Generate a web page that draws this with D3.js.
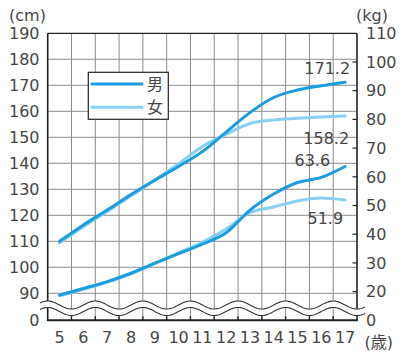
<!DOCTYPE html>
<html>
<head>
<meta charset="utf-8">
<script src="https://cdn.jsdelivr.net/npm/d3@7"></script>
<style>
  html, body { margin: 0; padding: 0; background: #fff; }
  svg text { font-family: "DejaVu Sans", "Noto Sans CJK JP", sans-serif; fill: #464646; }
</style>
</head>
<body>
<svg id="chart" width="408" height="353"></svg>
<script>
// Average height (cm) and weight (kg) by age, boys and girls
const ages = [5, 6, 7, 8, 9, 10, 11, 12, 13, 14, 15, 16, 17];
const boyHeight  = [110.0, 116.3, 122.0, 128.0, 133.5, 138.8, 144.5, 152.0, 159.5, 165.3, 168.2, 169.8, 171.2];
const girlHeight = [109.4, 115.6, 121.5, 127.5, 133.5, 139.8, 146.5, 151.2, 155.3, 156.7, 157.3, 157.8, 158.2];
const boyWeight  = [18.8, 21.1, 23.5, 26.4, 29.9, 33.2, 36.5, 40.5, 48.4, 54.0, 58.0, 59.8, 63.6];
const girlWeight = [18.5, 20.8, 23.2, 26.2, 29.8, 33.5, 37.2, 41.8, 47.5, 49.5, 51.6, 52.6, 51.9];

const heightTicks = [90, 100, 110, 120, 130, 140, 150, 160, 170, 180, 190];
const weightTicks = [20, 30, 40, 50, 60, 70, 80, 90, 100, 110];
const seriesNames = ["男", "女"];
const colors = { boy: "#1a9ce0", girl: "#85d0f3" };

const svg = d3.select("#chart");
const L = 47.7, R = 357, T = 33.3, B = 320.3;

const x = d3.scaleLinear().domain([4.5, 17.5]).range([L, R]);
const yH = d3.scaleLinear().domain([90, 190]).range([293.3, T]);
const yW = d3.scaleLinear().domain([10, 110]).range([B, T]);

// grid
const grid = svg.append("g");
grid.selectAll("line.h").data(heightTicks.filter(d => d < 190)).join("line")
  .attr("x1", L).attr("x2", R).attr("y1", d => yH(d)).attr("y2", d => yH(d))
  .attr("stroke", "#8c8c8c").attr("stroke-width", 1);
const gridX = d3.range(5.5, 17.5, 1);
grid.selectAll("line.v").data(gridX).join("line")
  .attr("x1", d => x(d)).attr("x2", d => x(d)).attr("y1", T).attr("y2", B)
  .attr("stroke", "#8c8c8c").attr("stroke-width", 1);

// frame
svg.append("line").attr("x1", L).attr("x2", R).attr("y1", T).attr("y2", T)
  .attr("stroke", "#222").attr("stroke-width", 1.3);
svg.append("line").attr("x1", L).attr("x2", L).attr("y1", T).attr("y2", B)
  .attr("stroke", "#222").attr("stroke-width", 1.6);
svg.append("line").attr("x1", R).attr("x2", R).attr("y1", T).attr("y2", B)
  .attr("stroke", "#222").attr("stroke-width", 1.6);
svg.append("line").attr("x1", L - 0.8).attr("x2", R + 0.8).attr("y1", B).attr("y2", B)
  .attr("stroke", "#222").attr("stroke-width", 2);

// bottom ticks at grid positions
svg.append("g").selectAll("line").data(gridX).join("line")
  .attr("x1", d => x(d)).attr("x2", d => x(d)).attr("y1", B - 4).attr("y2", B)
  .attr("stroke", "#222").attr("stroke-width", 1.4);

// right inner ticks for weight scale
svg.append("g").selectAll("line").data(weightTicks.filter(d => d < 110)).join("line")
  .attr("x1", R - 4.5).attr("x2", R).attr("y1", d => yW(d)).attr("y2", d => yW(d))
  .attr("stroke", "#222").attr("stroke-width", 1.2);

// axis break (double wave)
const waveX = d3.range(40, 366, 1);
const waveY = (px, off) => off - 4 * Math.cos((px - x(12.5)) / (x(14.5) - x(12.5)) * 2 * Math.PI);
const upper = waveX.map(px => [px, waveY(px, 305)]);
const lower = waveX.map(px => [px, waveY(px, 311.5)]);
svg.append("path")
  .attr("d", d3.line()(upper.concat(lower.slice().reverse())) + "Z")
  .attr("fill", "#fff");
[upper, lower].forEach(pts => {
  svg.append("path").attr("d", d3.line()(pts))
    .attr("fill", "none").attr("stroke", "#333").attr("stroke-width", 1.1);
});

// lines
const lineH = d3.line().x((d, i) => x(ages[i])).y(d => yH(d)).curve(d3.curveMonotoneX);
const lineW = d3.line().x((d, i) => x(ages[i])).y(d => yW(d)).curve(d3.curveMonotoneX);
const lines = svg.append("g").attr("fill", "none").attr("stroke-width", 3).attr("stroke-linecap", "round");
lines.append("path").attr("d", lineH(girlHeight)).attr("stroke", colors.girl);
lines.append("path").attr("d", lineW(girlWeight)).attr("stroke", colors.girl);
lines.append("path").attr("d", lineH(boyHeight)).attr("stroke", colors.boy);
lines.append("path").attr("d", lineW(boyWeight)).attr("stroke", colors.boy);

// left axis labels
const fs = 16;
svg.append("g").selectAll("text").data(heightTicks).join("text")
  .attr("x", 39.5).attr("y", d => yH(d)).attr("dy", "0.36em")
  .attr("text-anchor", "end").attr("font-size", fs).text(d => d);
svg.append("text").attr("x", 39.5).attr("y", B).attr("dy", "0.36em")
  .attr("text-anchor", "end").attr("font-size", fs).text("0");
svg.append("text").attr("x", 9).attr("y", 21).attr("font-size", fs).text("(cm)");

// right axis labels
svg.append("g").selectAll("text").data(weightTicks).join("text")
  .attr("x", 366).attr("y", d => yW(d)).attr("dy", "0.36em")
  .attr("font-size", fs).text(d => d);
svg.append("text").attr("x", 366).attr("y", B).attr("dy", "0.36em")
  .attr("font-size", fs).text("0");
svg.append("text").attr("x", 356).attr("y", 21).attr("font-size", fs).text("(kg)");

// bottom labels
svg.append("g").selectAll("text").data(ages).join("text")
  .attr("x", d => x(d)).attr("y", 337).attr("dy", "0.36em")
  .attr("text-anchor", "middle").attr("font-size", fs).text(d => d);
svg.append("text").attr("x", 393).attr("y", 342.5).attr("dy", "0.36em")
  .attr("text-anchor", "end").attr("font-size", fs).text("(歳)");

// end value labels
const last = ages.length - 1;
svg.append("text").attr("x", x(17) + 5).attr("y", yH(boyHeight[last]) - 14).attr("dy", "0.36em")
  .attr("text-anchor", "end").attr("font-size", fs).text(boyHeight[last].toFixed(1));
svg.append("text").attr("x", x(17) + 4).attr("y", yH(girlHeight[last]) + 22).attr("dy", "0.36em")
  .attr("text-anchor", "end").attr("font-size", fs).text(girlHeight[last].toFixed(1));
svg.append("text").attr("x", x(17) - 15).attr("y", yW(boyWeight[last]) - 6.5).attr("dy", "0.36em")
  .attr("text-anchor", "end").attr("font-size", fs).text(boyWeight[last].toFixed(1));
svg.append("text").attr("x", x(17) - 2).attr("y", yW(girlWeight[last]) + 18).attr("dy", "0.36em")
  .attr("text-anchor", "end").attr("font-size", fs).text(girlWeight[last].toFixed(1));

// legend
const lg = svg.append("g");
lg.append("rect").attr("x", 88.3).attr("y", 72.3).attr("width", 80).attr("height", 47)
  .attr("fill", "#fff").attr("stroke", "#222").attr("stroke-width", 1.2);
[["boy", 84], ["girl", 107.3]].forEach(([k, yy], i) => {
  lg.append("line").attr("x1", 90.7).attr("x2", 143.3).attr("y1", yy).attr("y2", yy)
    .attr("stroke", colors[k]).attr("stroke-width", 3);
  lg.append("text").attr("x", 147).attr("y", yy).attr("dy", "0.36em")
    .attr("font-size", fs).text(seriesNames[i]);
});
</script>
</body>
</html>
